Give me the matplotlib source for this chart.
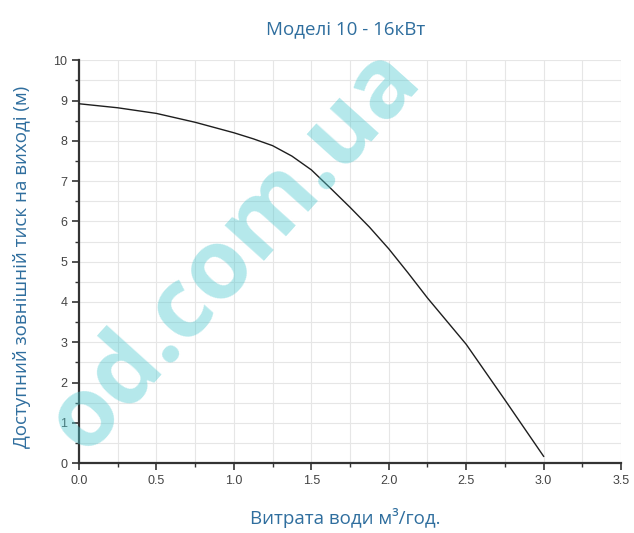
import matplotlib
matplotlib.use("Agg")
import matplotlib.pyplot as plt
from matplotlib.ticker import MultipleLocator, FormatStrFormatter

# data
flow = [0.0, 0.1, 0.25, 0.5, 0.75, 1.0, 1.125, 1.25, 1.375, 1.5, 1.625, 1.75, 1.875,
        2.0, 2.125, 2.25, 2.5, 2.75, 3.0]
head = [8.92, 8.88, 8.82, 8.68, 8.46, 8.20, 8.05, 7.88, 7.62, 7.28, 6.82, 6.35, 5.86,
        5.32, 4.72, 4.10, 2.95, 1.57, 0.17]

title = "Моделі 10 - 16кВт"
xlabel = "Витрата води м³/год."
ylabel = "Доступний зовнішній тиск на виході (м)"
watermark = "od.com.ua"

blue = "#2f6e9e"
fig = plt.figure(figsize=(6.34, 5.33), dpi=100)
fig.patch.set_facecolor("white")
ax = fig.add_axes([0.1246, 0.131, 0.855, 0.756])

# watermark
fig.text(0.37, 0.53, watermark, rotation=48, fontsize=70, family="Open Sans",
         weight="bold", color="#4fc9d0", alpha=0.42, ha="center", va="center", zorder=0)

ax.set_facecolor("none")
ax.plot(flow, head, color="#1e1e1e", lw=1.0, zorder=3)

ax.set_xlim(0, 3.5)
ax.set_ylim(0, 10)
ax.xaxis.set_major_locator(MultipleLocator(0.5))
ax.xaxis.set_minor_locator(MultipleLocator(0.25))
ax.yaxis.set_major_locator(MultipleLocator(1))
ax.yaxis.set_minor_locator(MultipleLocator(0.5))
ax.grid(which="both", color="#e6e6e6", lw=0.8)
ax.set_axisbelow(True)
for s in ["top", "right"]:
    ax.spines[s].set_visible(False)
for s in ["left", "bottom"]:
    ax.spines[s].set_linewidth(1.6)
    ax.spines[s].set_color("#333333")
ax.tick_params(which="major", length=5, width=1.2, color="#333333",
               labelsize=9, labelcolor="#444444", direction="out")
ax.tick_params(which="minor", length=3, width=1.0, color="#333333", direction="out")
ax.xaxis.set_major_formatter(FormatStrFormatter("%.1f"))
for lab in ax.get_xticklabels() + ax.get_yticklabels():
    lab.set_family("Liberation Sans")

fig.text(0.545, 0.945, title, ha="center", va="center", fontsize=13.5,
         family="Open Sans", color=blue)
fig.text(0.545, 0.028, xlabel, ha="center", va="center", fontsize=13.5,
         family="Open Sans", color=blue)
fig.text(0.035, 0.50, ylabel, ha="center", va="center", rotation=90, fontsize=13.5,
         family="Open Sans", color=blue)

fig.savefig("out.png", dpi=100)
